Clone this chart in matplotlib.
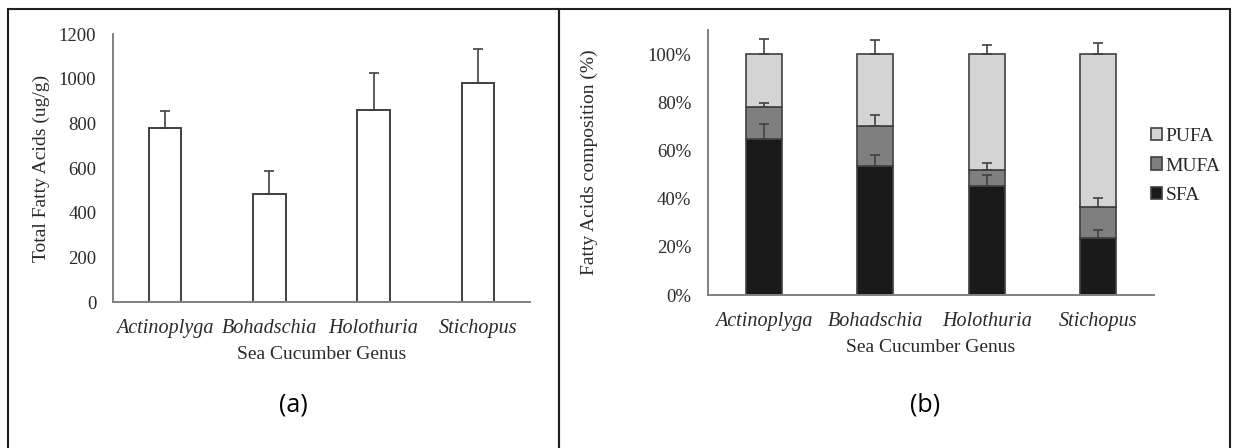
import matplotlib
matplotlib.use('Agg')
import matplotlib.pyplot as plt
import matplotlib.patches as mpatches
import numpy as np

plt.rcParams['font.family'] = ['Liberation Serif', 'DejaVu Serif']

# Data
genus = ['Actinoplyga', 'Bohadschia', 'Holothuria', 'Stichopus']
total_fa = [781, 485, 862, 983]
total_err = [75, 100, 165, 150]

sfa = [65.0, 53.4, 45.1, 23.5]
mufa = [13.0, 17.0, 7.0, 12.9]
pufa = [22.0, 29.6, 47.9, 63.6]
sfa_err = [6.1, 4.8, 4.6, 3.7]
mufa_err = [1.7, 4.3, 2.7, 4.0]
pufa_err = [6.4, 5.8, 3.7, 4.8]

W, H = 1236, 448
fig = plt.figure(figsize=(W / 100, H / 100), dpi=100)

spine_col = '#808080'
edge_col = '#404040'
txt_col = '#2a2a2a'
x = np.arange(len(genus))


def style_axes(ax):
    for s in ['top', 'right']:
        ax.spines[s].set_visible(False)
    for s in ['left', 'bottom']:
        ax.spines[s].set_color(spine_col)
        ax.spines[s].set_linewidth(1.4)
    ax.tick_params(length=0, labelsize=13.5, colors=txt_col)
    ax.set_xticks(x)
    ax.set_xticklabels(genus, style='italic', fontsize=14.5)
    ax.set_xlim(-0.5, len(genus) - 0.5)


# panel (a)
ax1 = fig.add_axes([113 / W, 1 - 302 / H, (530 - 113) / W, (302 - 34.3) / H])
ax1.bar(x, total_fa, width=0.31, color='white', edgecolor=edge_col, linewidth=1.4, zorder=2)
ax1.errorbar(x, total_fa, yerr=[np.zeros(len(x)), total_err], fmt='none',
             ecolor=edge_col, elinewidth=1.2, capsize=3.5, capthick=1.2, zorder=3)
ax1.set_ylim(0, 1200)
ax1.set_yticks(np.arange(0, 1201, 200))
style_axes(ax1)
ax1.tick_params(axis='x', pad=12)
ax1.tick_params(axis='y', pad=12)
ax1.set_ylabel('Total Fatty Acids (ug/g)', fontsize=14, color=txt_col, labelpad=6)
ax1.set_xlabel('Sea Cucumber Genus', fontsize=14, color=txt_col, labelpad=6)

# panel (b)
ax2 = fig.add_axes([708 / W, 1 - 295 / H, (1154 - 708) / W, (295 - 30.2) / H])
bw = 0.32
b_sfa = ax2.bar(x, np.array(sfa) / 100, width=bw, color='#1a1a1a', edgecolor=edge_col,
                linewidth=1.2, label='SFA', zorder=2)
b_mufa = ax2.bar(x, np.array(mufa) / 100, width=bw, bottom=np.array(sfa) / 100,
                 color='#7f7f7f', edgecolor=edge_col, linewidth=1.2, label='MUFA', zorder=2)
bot = (np.array(sfa) + np.array(mufa)) / 100
b_pufa = ax2.bar(x, np.array(pufa) / 100, width=bw, bottom=bot,
                 color='#d4d4d4', edgecolor=edge_col, linewidth=1.2, label='PUFA', zorder=2)
tops = [np.array(sfa) / 100, bot, bot + np.array(pufa) / 100]
for t, e in zip(tops, [sfa_err, mufa_err, pufa_err]):
    ax2.errorbar(x, t, yerr=[np.zeros(len(x)), np.array(e) / 100], fmt='none',
                 ecolor=edge_col, elinewidth=1.2, capsize=3.5, capthick=1.2, zorder=3)
ax2.set_ylim(0, 1.1)
ax2.set_yticks(np.arange(0, 1.01, 0.2))
ax2.set_yticklabels([f'{int(round(v * 100))}%' for v in np.arange(0, 1.01, 0.2)])
style_axes(ax2)
ax2.tick_params(axis='x', pad=12)
ax2.tick_params(axis='y', pad=12)
ax2.set_ylabel('Fatty Acids composition (%)', fontsize=14, color=txt_col, labelpad=36)
ax2.set_xlabel('Sea Cucumber Genus', fontsize=14, color=txt_col, labelpad=6)

fig.legend([b_pufa, b_mufa, b_sfa], ['PUFA', 'MUFA', 'SFA'], loc='center left',
           bbox_to_anchor=(1141 / W, 1 - 166 / H), frameon=False, fontsize=14,
           handlelength=0.6, handleheight=0.6, handletextpad=0.15, labelspacing=0.65,
           borderpad=0, labelcolor=txt_col)

# panel captions and frames
fig.text(293 / W, 1 - 405 / H, '(a)', fontsize=18, family='Open Sans', ha='center', va='center')
fig.text(925 / W, 1 - 405 / H, '(b)', fontsize=18, family='Open Sans', ha='center', va='center')
for x0, x1 in [(8, 559), (559, 1230)]:
    fig.add_artist(mpatches.Rectangle((x0 / W, -0.05), (x1 - x0) / W, 1.05 - 9.5 / H,
                                      transform=fig.transFigure, fill=False,
                                      edgecolor='#202020', linewidth=1.5))

fig.savefig('out.png', dpi=100)
